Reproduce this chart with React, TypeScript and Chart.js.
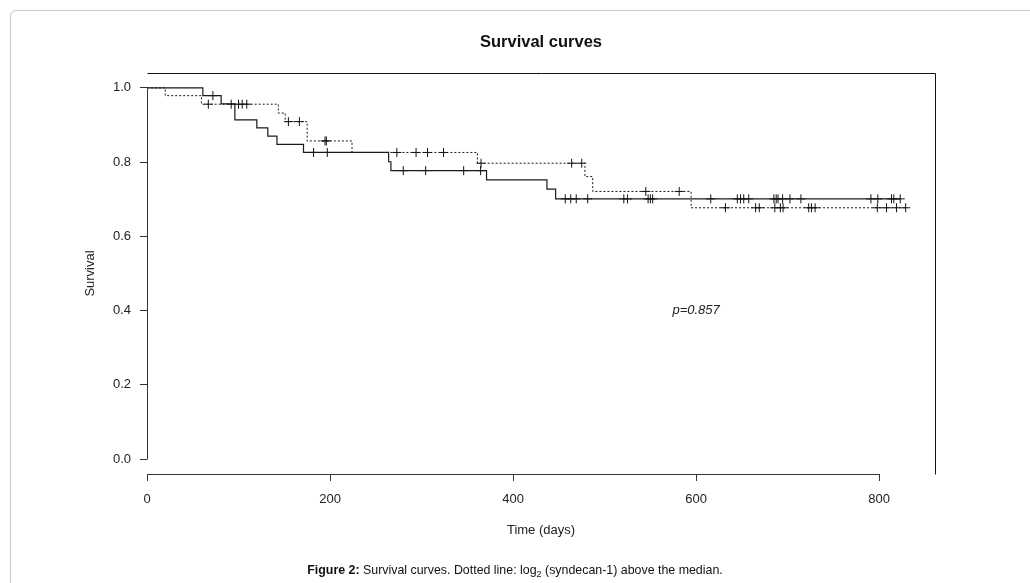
import React, { useEffect, useRef } from "react";
import { Chart, registerables } from "chart.js";

Chart.register(...registerables);

// Kaplan–Meier step data (time in days, survival)
const solidTimes = [0, 61, 81, 96, 120, 132, 142, 171, 264, 266.5, 371, 437, 446.5, 824];
const solidSurv = [1.0, 0.979, 0.957, 0.914, 0.892, 0.87, 0.848, 0.826, 0.801, 0.777, 0.752, 0.727, 0.701, 0.701];
const solidCensor = [72, 182, 197, 280, 304.5, 346, 364.5, 457, 463, 469, 481.5, 521, 525, 547.5, 550, 552.5, 616, 645, 648.5, 652, 657.5, 685, 687.5, 689.5, 694.5, 702.5, 714.5, 791, 798.5, 813.5, 816, 823];

const dottedTimes = [0, 20, 59.5, 143.5, 151, 175, 224, 361, 478.5, 487, 594.5, 830];
const dottedSurv = [1.0, 0.979, 0.956, 0.932, 0.909, 0.857, 0.826, 0.797, 0.761, 0.721, 0.677, 0.677];
const dottedCensor = [67, 92, 100, 104, 109, 154.5, 166.5, 194.5, 196, 273, 294, 306.5, 324, 365, 464, 475, 545, 581.5, 632, 665, 669, 686, 692, 695, 723, 726, 730, 798, 808, 819, 829];

const xTicks = [0, 200, 400, 600, 800];
const yTicks = [0, 0.2, 0.4, 0.6, 0.8, 1.0];

const titleText = "Survival curves";
const xTitle = "Time (days)";
const yTitle = "Survival";
const pText = "p=0.857";
const pPos = { x: 600, y: 0.4 };

const FONT = '"Liberation Sans", Arial, Helvetica, sans-serif';

function survAt(times: number[], surv: number[], t: number) {
  let s = surv[0];
  for (let i = 0; i < times.length; i++) if (times[i] <= t) s = surv[i];
  return s;
}

const framePlugin = {
  id: "framePlugin",
  afterDraw(chart: any) {
    const { ctx, chartArea, scales } = chart;
    const xs = scales.x;
    const ys = scales.y;
    const r = (v: number) => Math.round(v) + 0.5;
    ctx.save();
    ctx.strokeStyle = "#111";
    ctx.lineWidth = 1;
    // top and right frame
    ctx.beginPath();
    ctx.moveTo(r(chartArea.left), r(chartArea.top));
    ctx.lineTo(r(chartArea.right), r(chartArea.top));
    ctx.lineTo(r(chartArea.right), r(chartArea.bottom));
    ctx.stroke();
    // axis lines spanning ticks
    ctx.strokeStyle = "#333";
    ctx.beginPath();
    ctx.moveTo(r(chartArea.left), r(ys.getPixelForValue(yTicks[0])));
    ctx.lineTo(r(chartArea.left), r(ys.getPixelForValue(yTicks[yTicks.length - 1])));
    ctx.moveTo(r(xs.getPixelForValue(xTicks[0])), r(chartArea.bottom));
    ctx.lineTo(r(xs.getPixelForValue(xTicks[xTicks.length - 1])), r(chartArea.bottom));
    ctx.stroke();

    ctx.fillStyle = "#111";
    ctx.textAlign = "center";
    ctx.textBaseline = "middle";
    const cx = (chartArea.left + chartArea.right) / 2;
    ctx.font = `bold 16.5px ${FONT}`;
    ctx.fillText(titleText, cx, 42);
    ctx.font = `13px ${FONT}`;
    ctx.fillStyle = "#222";
    ctx.fillText(xTitle, cx, 530);
    ctx.save();
    ctx.translate(90, (ys.getPixelForValue(0) + ys.getPixelForValue(1)) / 2);
    ctx.rotate(-Math.PI / 2);
    ctx.fillText(yTitle, 0, 0);
    ctx.restore();
    ctx.font = `italic 13px ${FONT}`;
    ctx.fillText(pText, xs.getPixelForValue(pPos.x), ys.getPixelForValue(pPos.y));
    ctx.restore();
  },
};

export default function App() {
  const ref = useRef<HTMLCanvasElement | null>(null);
  useEffect(() => {
    if (!ref.current) return;
    const solidLine = solidTimes.map((t, i) => ({ x: t, y: solidSurv[i] }));
    const dottedLine = dottedTimes.map((t, i) => ({ x: t, y: dottedSurv[i] }));
    const solidMarks = solidCensor.map((t) => ({ x: t, y: survAt(solidTimes, solidSurv, t) }));
    const dottedMarks = dottedCensor.map((t) => ({ x: t, y: survAt(dottedTimes, dottedSurv, t) }));
    const chart = new Chart(ref.current, {
      type: "line",
      data: {
        datasets: [
          {
            data: solidLine,
            borderColor: "#1a1a1a",
            borderWidth: 1.2,
            stepped: "before",
            pointRadius: 0,
            fill: false,
          },
          {
            data: dottedLine,
            borderColor: "#1a1a1a",
            borderWidth: 1,
            borderDash: [2, 2],
            stepped: "before",
            pointRadius: 0,
            fill: false,
          },
          {
            data: solidMarks,
            showLine: false,
            pointStyle: "cross",
            pointRadius: 4.5,
            pointBorderColor: "#111",
            pointBorderWidth: 1,
          },
          {
            data: dottedMarks,
            showLine: false,
            pointStyle: "cross",
            pointRadius: 4.5,
            pointBorderColor: "#111",
            pointBorderWidth: 1,
          },
        ] as any,
      },
      options: {
        animation: false,
        responsive: false,
        devicePixelRatio: 1,
        layout: { padding: { top: 73, right: 95, left: 0, bottom: 0 } },
        plugins: { legend: { display: false }, tooltip: { enabled: false }, title: { display: false } },
        scales: {
          x: {
            type: "linear",
            min: 0,
            max: 861,
            afterBuildTicks: (s: any) => {
              s.ticks = xTicks.map((v) => ({ value: v }));
            },
            afterFit: (s: any) => {
              s.height = 109;
            },
            ticks: {
              font: { family: FONT, size: 13 },
              color: "#222",
              padding: 11,
              maxRotation: 0,
              autoSkip: false,
            },
            grid: { drawOnChartArea: false, drawTicks: true, tickLength: 7, color: "#333" },
            border: { display: false },
          },
          y: {
            type: "linear",
            min: -0.04,
            max: 1.04,
            afterBuildTicks: (s: any) => {
              s.ticks = yTicks.map((v) => ({ value: v }));
            },
            afterFit: (s: any) => {
              s.width = 147;
            },
            ticks: {
              font: { family: FONT, size: 13 },
              color: "#222",
              padding: 9,
              autoSkip: false,
              callback: (v: any) => Number(v).toFixed(1),
            },
            grid: { drawOnChartArea: false, drawTicks: true, tickLength: 7, color: "#333" },
            border: { display: false },
          },
        },
      },
      plugins: [framePlugin],
    });
    return () => chart.destroy();
  }, []);

  return (
    <div
      style={{
        position: "fixed",
        left: 0,
        top: 0,
        width: 1030,
        height: 583,
        overflow: "hidden",
        background: "#fff",
      }}
    >
      <div
        style={{
          position: "absolute",
          left: 10,
          top: 10,
          width: 1040,
          height: 620,
          border: "1px solid #c8c8c8",
          borderRadius: 6,
          boxSizing: "border-box",
        }}
      />
      <canvas
        ref={ref}
        width={1030}
        height={583}
        style={{ position: "absolute", left: 0, top: 0, width: 1030, height: 583 }}
      />
      <div
        style={{
          position: "absolute",
          left: 0,
          width: 1030,
          top: 562,
          textAlign: "center",
          fontFamily: FONT,
          fontSize: 12.4,
          color: "#111",
          lineHeight: "16px",
        }}
      >
        <b>Figure 2:</b> Survival curves. Dotted line: log
        <sub style={{ fontSize: 9, lineHeight: 0 }}>2</sub> (syndecan-1) above the median.
      </div>
    </div>
  );
}
